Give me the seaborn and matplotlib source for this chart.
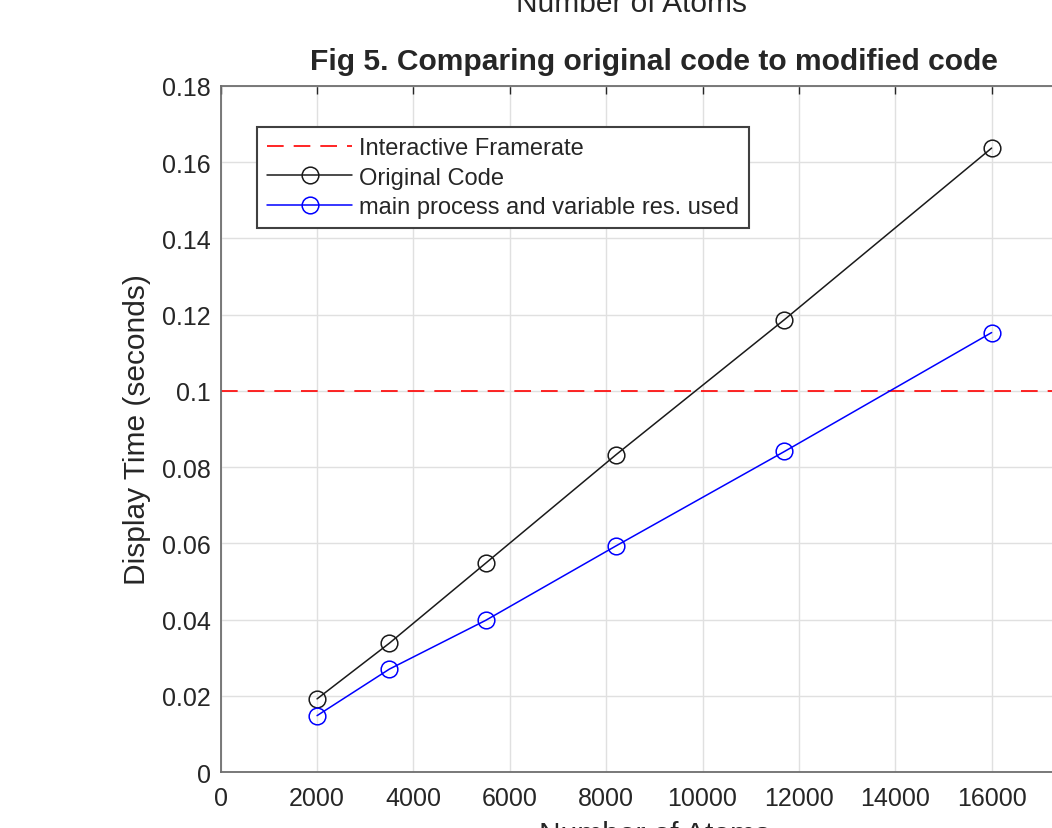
import numpy as np
import pandas as pd
import matplotlib
matplotlib.use('Agg')
import matplotlib.pyplot as plt
import seaborn as sns
from matplotlib.ticker import FormatStrFormatter

# values
atoms = [2000, 3500, 5500, 8200, 11700, 16000]
original_time = [0.0192, 0.0338, 0.0548, 0.0832, 0.1187, 0.1637]
modified_time = [0.0148, 0.0270, 0.0398, 0.0593, 0.0841, 0.1153]
framerate_limit = 0.1
x_ticks = [0, 2000, 4000, 6000, 8000, 10000, 12000, 14000, 16000, 18000]
y_ticks = [0, 0.02, 0.04, 0.06, 0.08, 0.1, 0.12, 0.14, 0.16, 0.18]

df = pd.DataFrame({
    'atoms': atoms * 2,
    'time': original_time + modified_time,
    'series': ['Original Code'] * len(atoms) + ['main process and variable res. used'] * len(atoms),
})

sns.set_theme(style='whitegrid')
plt.rcParams['font.family'] = ['Liberation Sans', 'DejaVu Sans']

fig = plt.figure(figsize=(10.52, 8.29), dpi=100)
ax = fig.add_axes([0.2098, 0.0675, 0.8244, 0.8276])

ax.axhline(framerate_limit, color='#ff0000', ls=(0, (10, 6)), lw=1.2,
           label='Interactive Framerate')
sns.lineplot(data=df, x='atoms', y='time', hue='series',
             palette=['#1a1a1a', '#0000ff'], marker='o', markersize=12,
             markerfacecolor='none', markeredgewidth=1.1, lw=1.1,
             ax=ax, legend=False)
for line, c in zip(ax.lines[1:], ['#1a1a1a', '#0000ff']):
    line.set_markeredgecolor(c)

ax.set_xlim(0, 18000)
ax.set_ylim(0, 0.18)
ax.set_xticks(x_ticks)
ax.set_yticks(y_ticks)
ax.yaxis.set_major_formatter(FormatStrFormatter('%g'))

ax.grid(True, color='#e0e0e0', lw=1)
for s in ax.spines.values():
    s.set_color('#6e6e6e')
    s.set_linewidth(1.3)
ax.tick_params(direction='in', length=6, width=1, color='#262626',
               top=True, right=True, labelsize=18, labelcolor='#262626', pad=7)
ax.tick_params(axis='x', pad=10)

ax.set_xlabel('Number of Atoms', fontsize=21.5, color='#262626', labelpad=7)
ax.set_ylabel('Display Time (seconds)', fontsize=21.5, color='#262626', labelpad=8)
ax.set_title('Fig 5. Comparing original code to modified code',
             fontsize=21.6, fontweight='bold', pad=12)

ax.legend(handles=ax.lines[:3],
          labels=['Interactive Framerate', 'Original Code',
                  'main process and variable res. used'],
          loc='upper left', bbox_to_anchor=(0.042, 0.94), borderaxespad=0,
          fontsize=17, frameon=True, fancybox=False, edgecolor='#404040',
          framealpha=1, handlelength=3.6, handletextpad=0.3, borderpad=0.42,
          labelspacing=0.32)
ax.get_legend().get_frame().set_linewidth(1.5)

# xlabel of the figure above, cut off by the crop
fig.text(0.60, 0.9855, 'Number of Atoms', fontsize=21.5, color='#262626',
         ha='center', va='baseline')

fig.savefig('out.png', dpi=100)
